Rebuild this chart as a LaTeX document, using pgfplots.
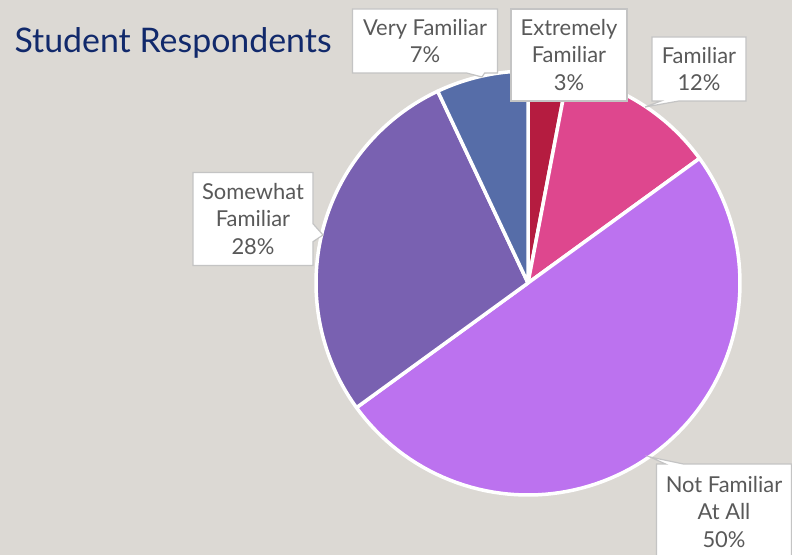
\documentclass[border=0pt]{standalone}
\usepackage{pgfplots}
\pgfplotsset{compat=1.18}
\usepackage{pgfplotstable}
\usepackage{fontspec}
\setmainfont{Lato}
\usetikzlibrary{shapes.callouts}

\definecolor{bg}{HTML}{DCD9D4}
\definecolor{titleblue}{HTML}{11296B}
\definecolor{labelgray}{HTML}{595959}
\definecolor{boxline}{HTML}{C4C4C4}
\definecolor{slice0}{HTML}{B51C40}
\definecolor{slice1}{HTML}{DE478E}
\definecolor{slice2}{HTML}{BC72EF}
\definecolor{slice3}{HTML}{7961B1}
\definecolor{slice4}{HTML}{566DA8}

% share of respondents, clockwise from 12 o'clock
\pgfplotstableread{
label pct
Extremely 3
Familiar 12
NotFamiliar 50
Somewhat 28
Very 7
}\piedata

\begin{document}
\begin{tikzpicture}[
  lbl/.style={fill=white, draw=boxline, line width=1.2bp, align=center,
    text=labelgray, font=\fontsize{22}{28}\selectfont, inner sep=0pt},
  co/.style={lbl, rectangle callout, callout pointer width=18bp}]
\begin{axis}[
  scale only axis, width=792bp, height=555bp,
  hide axis, xmin=0, xmax=792, ymin=0, ymax=555, y dir=reverse,
  clip=false]
\fill[bg] (0,0) rectangle (792,555);

\def\cx{528}\def\cy{283}\def\r{212}
\def\cum{0}
\pgfplotsforeachungrouped \i in {0,...,4}{
  \pgfplotstablegetelem{\i}{pct}\of\piedata
  \pgfmathsetmacro\sa{3.6*\cum}
  \pgfmathsetmacro\cum{\cum+\pgfplotsretval}
  \pgfmathsetmacro\ea{3.6*\cum}
  \edef\temp{\noexpand\addplot[fill=slice\i, draw=white, line width=3.5bp,
    line join=round, domain=\sa:\ea, samples=90]
    ({\cx+\r*sin(x)},{\cy-\r*cos(x)}) -- (\cx,\cy) -- cycle;}
  \temp
}

\node[anchor=base west, text=titleblue, font=\fontsize{34}{40}\selectfont]
  at (11,53) {Student Respondents};

\node[co, minimum width=145bp, minimum height=64bp,
  callout absolute pointer={(482,77)}] at (425,41) {Very Familiar\\7\%};
\node[lbl, minimum width=116bp, minimum height=92bp] at (569,55)
  {Extremely\\Familiar\\3\%};
\node[co, minimum width=94bp, minimum height=64bp,
  callout absolute pointer={(645,107)}] at (699,69) {Familiar\\12\%};
\node[co, minimum width=120bp, minimum height=93bp,
  callout absolute pointer={(323,235)}] at (253,219)
  {Somewhat\\Familiar\\28\%};
\node[co, minimum width=135bp, minimum height=96bp,
  callout absolute pointer={(650,457)}] at (724,512)
  {Not Familiar\\At All\\50\%};
\end{axis}
\pgfresetboundingbox
\path[use as bounding box] (0,0) rectangle (792bp,555bp);
\end{tikzpicture}
\end{document}
